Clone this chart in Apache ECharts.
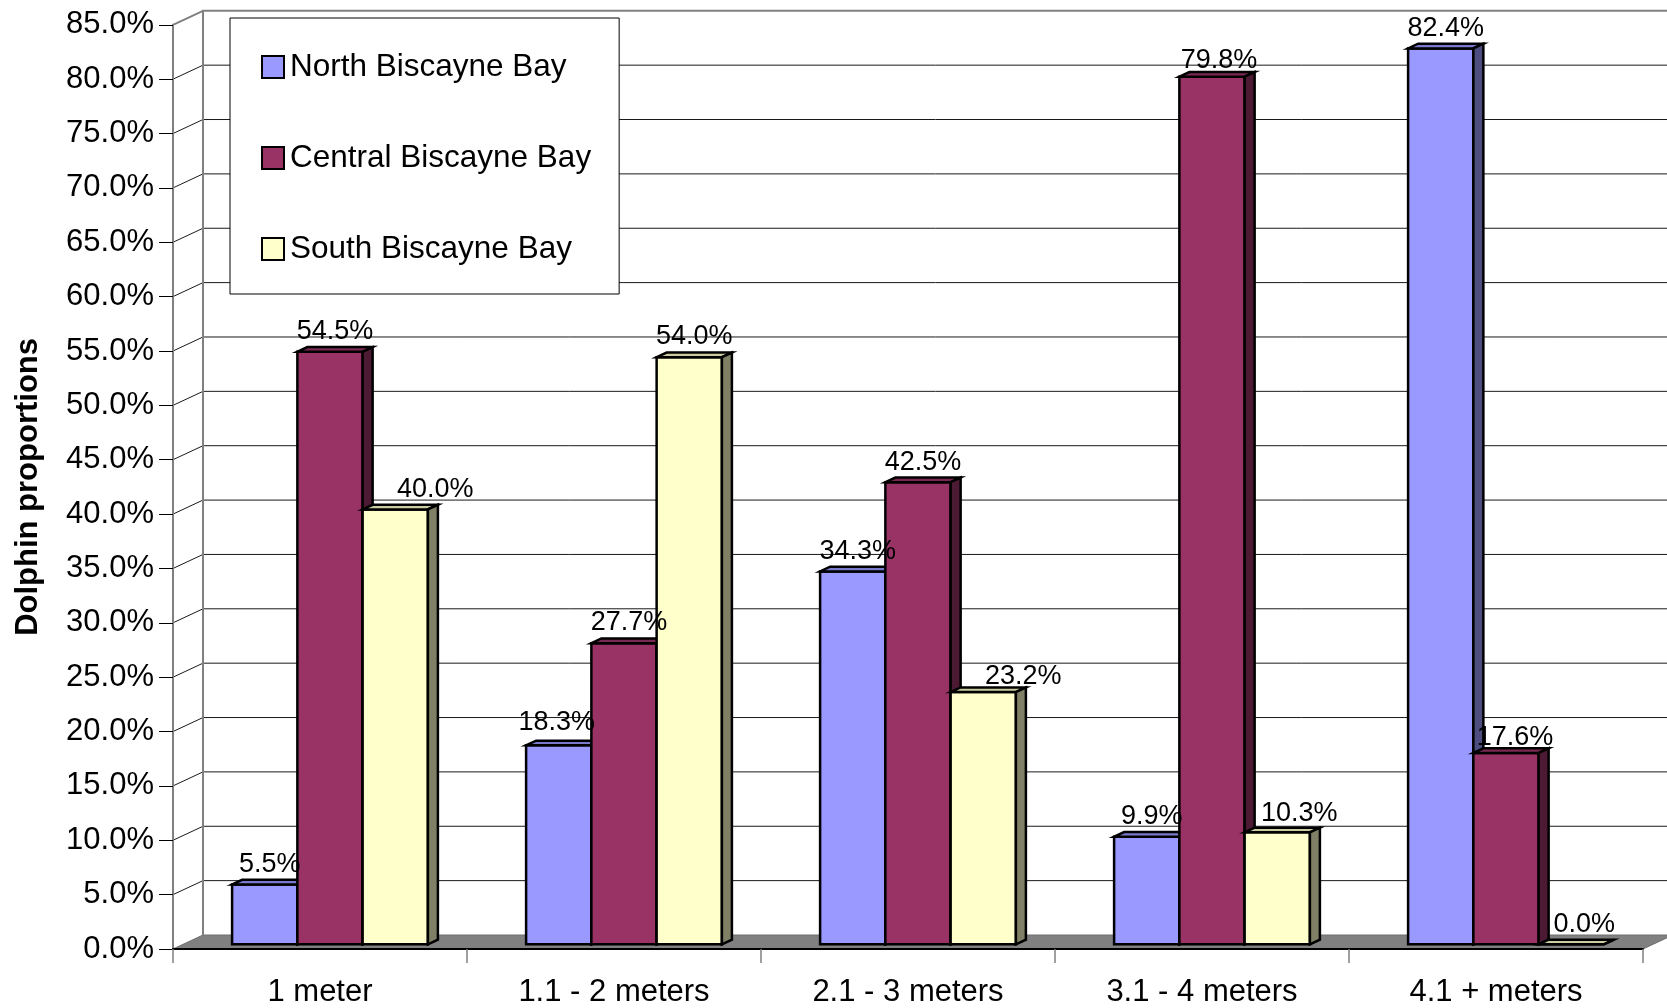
<!DOCTYPE html>
<html>
<head>
<meta charset="utf-8">
<script src="https://cdn.jsdelivr.net/npm/echarts@6/dist/echarts.min.js"></script>
<style>
  html, body { margin: 0; padding: 0; background: #ffffff; }
  #chart { width: 1667px; height: 1008px; }
</style>
</head>
<body>
<div id="chart"></div>
<script>
// Dolphin proportions by depth class, per region of Biscayne Bay (%)
const categories = ['1 meter', '1.1 - 2 meters', '2.1 - 3 meters', '3.1 - 4 meters', '4.1 + meters'];
const seriesNames = ['North Biscayne Bay', 'Central Biscayne Bay', 'South Biscayne Bay'];
const northBay = [5.5, 18.3, 34.3, 9.9, 82.4];
const centralBay = [54.5, 27.7, 42.5, 79.8, 17.6];
const southBay = [40.0, 54.0, 23.2, 10.3, 0.0];
const yTicks = [0, 5, 10, 15, 20, 25, 30, 35, 40, 45, 50, 55, 60, 65, 70, 75, 80, 85];

const FONT = "'Liberation Sans', Arial, Helvetica, sans-serif";

// Faces of each 3D column: front, top (shaded), side (dark)
const palette = [
  { front: '#9999ff', top: '#7a7acc', side: '#4d4d80' },
  { front: '#993366', top: '#7a2952', side: '#4d1a33' },
  { front: '#ffffcc', top: '#cccca3', side: '#808066' }
];

// Oblique depth of the plot box (pixels): floor/back wall offset
const DX = 30, DY = -14;
// Columns sit in the middle third of the depth
const BAR_DX = DX / 3, BAR_DY = DY / 3;
// Fraction of a category band taken by one column
const BAR_FRAC = 0.222;

// Value labels that were moved aside so they clear a neighbouring column
// (pixel nudges, keyed by series index then category index)
const labelNudge = {
  0: { 1: [-7, -3] },
  1: { 3: [2, 4], 4: [4, 5] },
  2: { 0: [35, 0], 2: [35, 5], 3: [17, 1], 4: [8, 0] }
};

function wallRenderer(params, api) {
  const cs = params.coordSys;
  const xL = cs.x, xR = cs.x + cs.width;
  const yMax = yTicks[yTicks.length - 1];
  const y0 = api.coord([0, yTicks[0]])[1];
  const yTop = api.coord([0, yMax])[1];
  const children = [];
  // floor
  children.push({
    type: 'polygon',
    shape: { points: [[xL, y0], [xR, y0], [xR + DX, y0 + DY], [xL + DX, y0 + DY]] },
    style: { fill: '#808080', stroke: '#6e6e6e', lineWidth: 1 }
  });
  // grid lines on back wall and left wall
  yTicks.forEach(function (v) {
    if (v === yTicks[0] || v === yMax) return;
    const y = api.coord([0, v])[1];
    children.push({
      type: 'line',
      shape: { x1: xL + DX, y1: y + DY, x2: xR + DX, y2: y + DY },
      style: { stroke: '#1a1a1a', lineWidth: 1 }
    });
    children.push({
      type: 'line',
      shape: { x1: xL, y1: y, x2: xL + DX, y2: y + DY },
      style: { stroke: '#1a1a1a', lineWidth: 1 }
    });
  });
  // back wall outline
  children.push({
    type: 'polyline',
    shape: { points: [[xL + DX, y0 + DY], [xL + DX, yTop + DY], [xR + DX + 40, yTop + DY]] },
    style: { stroke: '#808080', lineWidth: 2, fill: null }
  });
  // left wall top edge
  children.push({
    type: 'line',
    shape: { x1: xL, y1: yTop, x2: xL + DX, y2: yTop + DY },
    style: { stroke: '#808080', lineWidth: 2 }
  });
  return { type: 'group', children: children };
}

function barRenderer(seriesIndex) {
  return function (params, api) {
    const cat = api.value(0);
    const val = api.value(1);
    const base = api.coord([cat, 0]);
    const top = api.coord([cat, val]);
    const band = api.size([1, 0])[0];
    const barW = band * BAR_FRAC;
    const x0 = base[0] - (barW * 3) / 2 + seriesIndex * barW + BAR_DX;
    const x1 = x0 + barW;
    const yb = base[1] + BAR_DY;
    const yt = top[1] + BAR_DY;
    const c = palette[seriesIndex];
    const edge = { stroke: '#000000', lineWidth: 2.5, lineJoin: 'miter' };
    const nudge = (labelNudge[seriesIndex] && labelNudge[seriesIndex][cat]) || [0, 0];
    return {
      type: 'group',
      children: [
        {
          type: 'polygon',
          shape: { points: [[x0, yb], [x1, yb], [x1, yt], [x0, yt]] },
          style: Object.assign({ fill: c.front }, edge)
        },
        {
          type: 'polygon',
          shape: { points: [[x0, yt], [x1, yt], [x1 + BAR_DX, yt + BAR_DY], [x0 + BAR_DX, yt + BAR_DY]] },
          style: Object.assign({ fill: c.top }, edge)
        },
        {
          type: 'polygon',
          shape: { points: [[x1, yb], [x1 + BAR_DX, yb + BAR_DY], [x1 + BAR_DX, yt + BAR_DY], [x1, yt]] },
          style: Object.assign({ fill: c.side }, edge)
        },
        {
          type: 'text',
          x: (x0 + x1) / 2 + BAR_DX / 2 + nudge[0],
          y: yt + BAR_DY - 2 + nudge[1],
          z2: 100,
          style: {
            text: val.toFixed(1) + '%',
            align: 'center',
            verticalAlign: 'bottom',
            fontSize: 27,
            fontFamily: FONT,
            fill: '#000000'
          }
        }
      ]
    };
  };
}

const seriesValues = [northBay, centralBay, southBay];

const chart = echarts.init(document.getElementById('chart'), null, { renderer: 'canvas' });

chart.setOption({
  animation: false,
  backgroundColor: '#ffffff',
  textStyle: { fontFamily: FONT },
  grid: { left: 173, right: 24, top: 24.8, bottom: 57, containLabel: false },
  legend: {
    orient: 'vertical',
    left: 230,
    top: 18,
    padding: [33, 28, 29, 31],
    itemGap: 59,
    itemWidth: 22,
    itemHeight: 22,
    icon: 'rect',
    backgroundColor: '#ffffff',
    borderColor: '#000000',
    borderWidth: 1,
    z: 10,
    selectedMode: false,
    textStyle: { fontSize: 31.5, lineHeight: 30, color: '#000000', fontFamily: FONT, padding: [0, 0, 0, 1] },
    data: seriesNames.map(function (n, i) {
      return { name: n, itemStyle: { color: palette[i].front, borderColor: '#000000', borderWidth: 2 } };
    })
  },
  xAxis: {
    type: 'category',
    data: categories,
    z: 5,
    axisLine: { show: true, lineStyle: { color: '#000000', width: 2 } },
    axisTick: { show: true, length: 14, inside: false, lineStyle: { color: '#808080', width: 1.5 } },
    axisLabel: { fontSize: 31, color: '#000000', margin: 28, fontFamily: FONT },
    splitLine: { show: false }
  },
  yAxis: {
    type: 'value',
    min: yTicks[0],
    max: yTicks[yTicks.length - 1],
    interval: yTicks[1] - yTicks[0],
    z: 5,
    axisLine: { show: true, lineStyle: { color: '#808080', width: 2 } },
    axisTick: { show: true, length: 14, inside: false, lineStyle: { color: '#000000', width: 1 } },
    axisLabel: {
      fontSize: 31, color: '#000000', margin: 19, fontFamily: FONT,
      formatter: function (v) { return v.toFixed(1) + '%'; }
    },
    splitLine: { show: false },
    name: 'Dolphin proportions',
    nameLocation: 'middle',
    nameGap: 129,
    nameTextStyle: { fontSize: 31, fontWeight: 'bold', color: '#000000', fontFamily: FONT }
  },
  series: [
    {
      type: 'custom',
      name: 'walls',
      z: 1,
      silent: true,
      renderItem: wallRenderer,
      data: [[0, 0]]
    }
  ].concat(seriesNames.map(function (name, si) {
    return {
      type: 'custom',
      name: name,
      z: 2,
      itemStyle: { color: palette[si].front, borderColor: '#000000', borderWidth: 2 },
      renderItem: barRenderer(si),
      encode: { x: 0, y: 1 },
      data: seriesValues[si].map(function (v, i) { return [i, v]; })
    };
  }))
});
</script>
</body>
</html>
